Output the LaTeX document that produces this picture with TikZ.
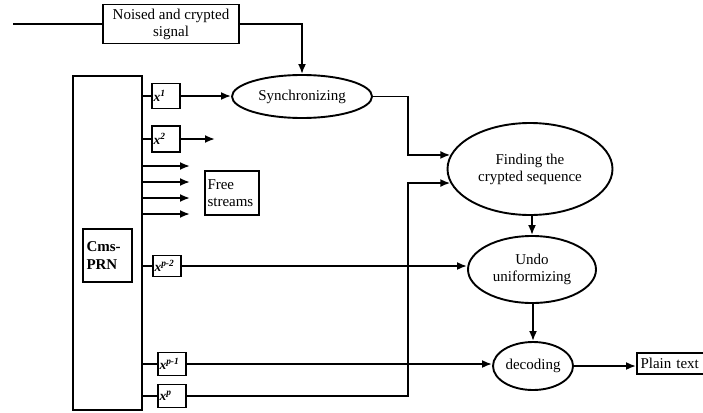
\documentclass[tikz,border=0pt]{standalone}
\usepackage{fontspec}
\setmainfont{Liberation Serif}
\usetikzlibrary{shapes.geometric,arrows.meta}
\begin{document}
\begin{tikzpicture}[x=1pt,y=-1pt,
  every node/.style={font=\fontsize{15}{17}\selectfont},
  ln/.style={line width=1.9pt},
  arr/.style={ln,-{Latex[length=10pt,width=8pt]}},
  box/.style={draw,line width=1.9pt,rectangle,inner sep=0pt},
  ell/.style={draw,line width=1.9pt,ellipse,inner sep=0pt,align=center},
  xl/.style={box,minimum width=28pt,text width=25pt,align=left,
    font=\fontsize{13.5}{15}\selectfont\bfseries\itshape}
]
\useasboundingbox (0,0) rectangle (703,412);
% nodes
\coordinate (start) at (13,24);
\node[box,minimum width=136pt,minimum height=39pt,align=center] (sig) at (171,24)
  {Noised and crypted\\signal};
\node[ell,minimum width=140pt,minimum height=43pt] (sync) at (302,96.5) {Synchronizing};
\node[box,minimum width=69pt,minimum height=334pt] (prng) at (107.5,243) {};
\node[box,minimum width=49pt,minimum height=53pt,text width=42pt,align=left,
  font=\fontsize{15}{18}\selectfont\bfseries] (cms) at (107.5,255.5) {Cms-\\PRN};
\node[xl,minimum height=25pt] (x1) at (166,96) {x\textsuperscript{1}};
\node[xl,minimum height=26pt] (x2) at (166,139) {x\textsuperscript{2}};
\node[xl,minimum height=21pt] (xpm2) at (167,266) {x\textsuperscript{p-2}};
\node[xl,minimum height=23pt] (xpm1) at (172,364) {x\textsuperscript{p-1}};
\node[xl,minimum height=23pt] (xp) at (172,396) {x\textsuperscript{p}};
\node[box,minimum width=54pt,minimum height=44pt,text width=49pt,align=left] (free) at (232,193)
  {Free\\streams};
\node[ell,minimum width=165pt,minimum height=92pt] (find) at (530,169)
  {Finding the\\crypted sequence};
\node[ell,minimum width=128pt,minimum height=67pt] (undo) at (532,269.5)
  {Undo\\uniformizing};
\node[ell,minimum width=80pt,minimum height=48pt] (dec) at (533,366) {decoding};
\node[box,minimum width=69pt,minimum height=21pt,text width=62pt,align=left] (plain) at (671.5,363.5)
  {Plain text};
% free ends
\coordinate (x2end) at (215,139);
\coordinate (f1) at (190,166);
\coordinate (f2) at (190,182);
\coordinate (f3) at (190,198);
\coordinate (f4) at (190,214);
\coordinate (bus) at (408,0);
% connectors
\draw[ln] (start) -- (sig.west);
\draw[arr] (sig.east) -| (sync.north);
\draw[ln] (prng.east |- x1.west) -- (x1.west);
\draw[ln] (prng.east |- x2.west) -- (x2.west);
\draw[ln] (prng.east |- xpm2.west) -- (xpm2.west);
\draw[ln] (prng.east |- xpm1.west) -- (xpm1.west);
\draw[ln] (prng.east |- xp.west) -- (xp.west);
\draw[arr] (x1.east) -- (x1.east -| sync.west);
\draw[arr] (x2.east) -- (x2end);
\foreach \f in {f1,f2,f3,f4} \draw[arr] (prng.east |- \f) -- (\f);
\draw[arr] (sync.east) -| (bus |- find.170.7) -- (find.170.7);
\draw[arr] (xp.east) -| (bus |- find.190.1) -- (find.190.1);
\draw[arr] (xpm2.east) -- (xpm2.east -| undo.west);
\draw[arr] (xpm1.east) -- (xpm1.east -| dec.west);
\draw[arr] (undo.north |- find.south) -- (undo.north);
\draw[arr] (dec.north |- undo.south) -- (dec.north);
\draw[arr] (dec.east) -- (plain.west |- dec.east);
\end{tikzpicture}
\end{document}
